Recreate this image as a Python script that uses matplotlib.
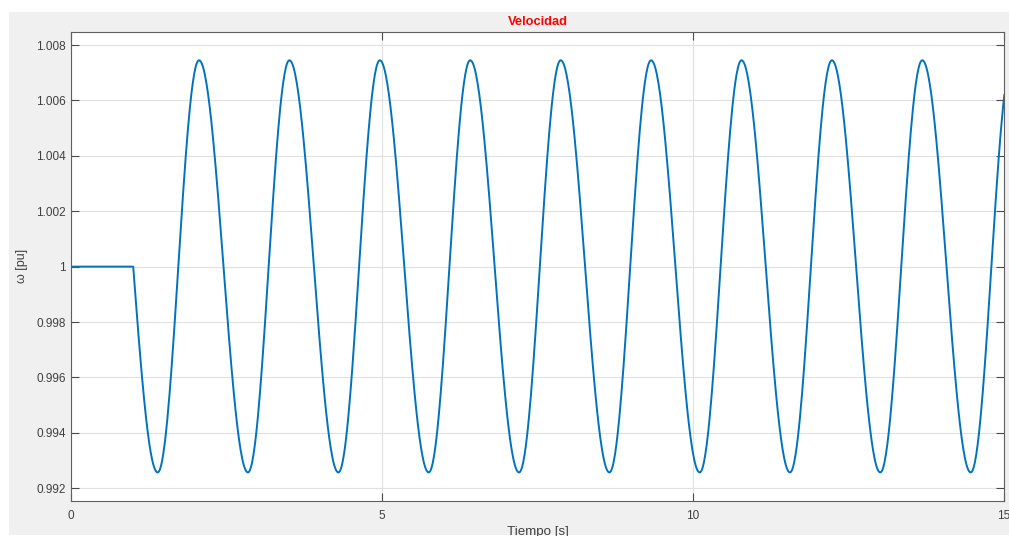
import numpy as np
import matplotlib
matplotlib.use("Agg")
import matplotlib.pyplot as plt
from matplotlib.patches import Rectangle

# Rotor speed response: steady at 1 pu, disturbance at t = 1 s,
# then a sustained oscillation. Turning points of the trace (time, speed).
t_flat = [0.0, 1.0]
w_flat = [1.0, 1.0]

t_turn = [1.0, 1.393, 2.058, 2.845, 3.511, 4.299, 4.965, 5.751, 6.418,
          7.203, 7.873, 8.656, 9.326, 10.108, 10.780, 11.559, 12.233,
          13.011, 13.686, 14.465, 15.13]
w_turn = [1.0, 0.99257, 1.00745, 0.99257, 1.00745, 0.99257, 1.00745,
          0.99257, 1.00745, 0.99257, 1.00745, 0.99257, 1.00745, 0.99257,
          1.00745, 0.99257, 1.00745, 0.99257, 1.00745, 0.99257, 1.00745]

x_ticks = [0, 5, 10, 15]
y_ticks = [0.992, 0.994, 0.996, 0.998, 1.0, 1.002, 1.004, 1.006, 1.008]
y_tick_labels = ["0.992", "0.994", "0.996", "0.998", "1", "1.002",
                 "1.004", "1.006", "1.008"]

title_text = "Velocidad"
x_label = "Tiempo [s]"
y_label = "ω [pu]"

plt.rcParams["font.family"] = ["Liberation Sans", "DejaVu Sans"]


def build_trace(t_flat, w_flat, t_turn, w_turn, n=60):
    """Join the flat start and the swing between consecutive turning points."""
    ts = list(t_flat)
    ws = list(w_flat)
    for i in range(len(t_turn) - 1):
        s = np.linspace(0.0, 1.0, n)[1:]
        t0, t1 = t_turn[i], t_turn[i + 1]
        w0, w1 = w_turn[i], w_turn[i + 1]
        if i == 0:
            # leaves the operating point at full slope
            shape = np.sin(0.5 * np.pi * s)
        else:
            shape = 0.5 * (1.0 - np.cos(np.pi * s))
        ts.extend(t0 + (t1 - t0) * s)
        ws.extend(w0 + (w1 - w0) * shape)
    return np.array(ts), np.array(ws)


t, w = build_trace(t_flat, w_flat, t_turn, w_turn)

W, H = 1009, 536
fig = plt.figure(figsize=(W / 100, H / 100), dpi=100, facecolor="white")
fig.patches.append(Rectangle((9 / W, 1 / H), 1.0, (H - 13) / H,
                             transform=fig.transFigure, facecolor="#f0f0f0",
                             edgecolor="none", zorder=-10))

ax = fig.add_axes([71 / W, (H - 500.7) / H, 933 / W, 468.7 / H])
ax.set_facecolor("white")

ax.plot(t, w, color="#0072BD", linewidth=1.4, solid_capstyle="round",
        zorder=3)

ax.set_xlim(0, 15)
ax.set_ylim(0.99155, 1.00847)
ax.set_xticks(x_ticks)
ax.set_xticklabels([str(v) for v in x_ticks])
ax.set_yticks(y_ticks)
ax.set_yticklabels(y_tick_labels)

ax.grid(True, color="#e0e0e0", linewidth=0.8)
ax.set_axisbelow(True)

for side in ["left", "right", "top", "bottom"]:
    ax.spines[side].set_color("#5f5f5f")
    ax.spines[side].set_linewidth(0.8)

ax.tick_params(axis="both", which="major", direction="in", length=5.5,
               width=0.8, color="#4a4a4a", labelsize=8.5,
               labelcolor="#404040", top=True, right=True)
ax.tick_params(axis="y", pad=3.8)
ax.tick_params(axis="x", pad=6.5)

ax.set_title(title_text, color="#ff0000", fontweight="bold", fontsize=9.3,
             pad=5)
ax.set_xlabel(x_label, fontsize=9.6, color="#404040", labelpad=3)
ax.set_ylabel(y_label, fontsize=9.0, color="#404040", labelpad=6)

fig.savefig("out.png", dpi=100, facecolor=fig.get_facecolor())
